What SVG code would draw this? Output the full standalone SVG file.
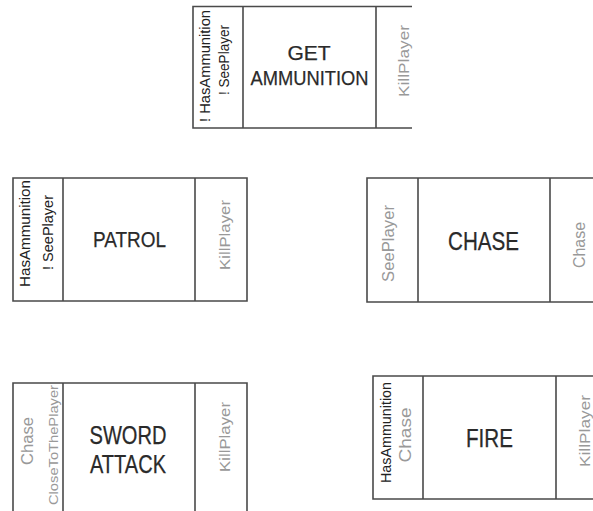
<svg xmlns="http://www.w3.org/2000/svg" width="593" height="511" viewBox="0 0 593 511">
<style>
.bx{fill:none;stroke:#4a4a4a;stroke-width:1.6}
.st{font-family:"Liberation Sans",Arial,sans-serif;fill:#2a2a2a;stroke:#2a2a2a;stroke-width:0.25;text-anchor:middle}
.lb{font-family:"Liberation Sans",Arial,sans-serif;text-anchor:middle}
.dk{fill:#222}
.gy{fill:#999}
</style>
<rect width="593" height="511" fill="#fff"/>
<g id="connectors"></g>
<g id="get-ammunition">
<path class="bx" d="M412,6.5 H193 V128 H412 M243,6.5 V128 M376,6.5 V128"/>
<text class="lb dk" font-size="14" transform="translate(209.5,66) rotate(-90)" textLength="112" lengthAdjust="spacingAndGlyphs">! HasAmmunition</text>
<text class="lb dk" font-size="14" transform="translate(229,60) rotate(-90)" textLength="70" lengthAdjust="spacingAndGlyphs">! SeePlayer</text>
<text class="st" font-size="21" x="309" y="60">GET</text>
<text class="st" font-size="21" x="309.5" y="85" textLength="118" lengthAdjust="spacingAndGlyphs">AMMUNITION</text>
<text class="lb gy" font-size="14.5" transform="translate(409,61) rotate(-90)" textLength="72" lengthAdjust="spacingAndGlyphs">KillPlayer</text>
</g>
<g id="patrol">
<path class="bx" d="M13,178 H247 V301 H13 Z M63,178 V301 M195,178 V301"/>
<text class="lb dk" font-size="14" transform="translate(30,233.5) rotate(-90)" textLength="107" lengthAdjust="spacingAndGlyphs">HasAmmunition</text>
<text class="lb dk" font-size="14" transform="translate(52.5,232.5) rotate(-90)" textLength="75" lengthAdjust="spacingAndGlyphs">! SeePlayer</text>
<text class="st" font-size="21.5" x="129.5" y="247" textLength="73" lengthAdjust="spacingAndGlyphs">PATROL</text>
<text class="lb gy" font-size="15.5" transform="translate(230,235) rotate(-90)" textLength="70" lengthAdjust="spacingAndGlyphs">KillPlayer</text>
</g>
<g id="chase">
<path class="bx" d="M595,178 H367 V302 H595 M418,178 V302 M550,178 V302"/>
<text class="lb gy" font-size="16" transform="translate(393.5,243.5) rotate(-90)" textLength="77" lengthAdjust="spacingAndGlyphs">SeePlayer</text>
<text class="st" font-size="25.5" x="483.5" y="250" textLength="71" lengthAdjust="spacingAndGlyphs">CHASE</text>
<text class="lb gy" font-size="16" transform="translate(585,245) rotate(-90)" textLength="46" lengthAdjust="spacingAndGlyphs">Chase</text>
</g>
<g id="sword-attack">
<path class="bx" d="M13,515 V383 H247 V515 M63,383 V515 M195,383 V515"/>
<text class="lb gy" font-size="16" transform="translate(33,441) rotate(-90)" textLength="48" lengthAdjust="spacingAndGlyphs">Chase</text>
<text class="lb gy" font-size="13.5" transform="translate(57.5,445) rotate(-90)" textLength="120" lengthAdjust="spacingAndGlyphs">CloseToThePlayer</text>
<text class="st" font-size="26" x="128" y="444" textLength="77" lengthAdjust="spacingAndGlyphs">SWORD</text>
<text class="st" font-size="26" x="128" y="473" textLength="76" lengthAdjust="spacingAndGlyphs">ATTACK</text>
<text class="lb gy" font-size="15.5" transform="translate(230,437) rotate(-90)" textLength="70" lengthAdjust="spacingAndGlyphs">KillPlayer</text>
</g>
<g id="fire">
<path class="bx" d="M595,376 H373 V499 H595 M423,376 V499 M556,376 V499"/>
<text class="lb dk" font-size="14" transform="translate(391,432.5) rotate(-90)" textLength="101" lengthAdjust="spacingAndGlyphs">HasAmmunition</text>
<text class="lb gy" font-size="17" transform="translate(410.5,435) rotate(-90)" textLength="55" lengthAdjust="spacingAndGlyphs">Chase</text>
<text class="st" font-size="25" x="489.5" y="447" textLength="47" lengthAdjust="spacingAndGlyphs">FIRE</text>
<text class="lb gy" font-size="15.5" transform="translate(590,431) rotate(-90)" textLength="72" lengthAdjust="spacingAndGlyphs">KillPlayer</text>
</g>
</svg>
